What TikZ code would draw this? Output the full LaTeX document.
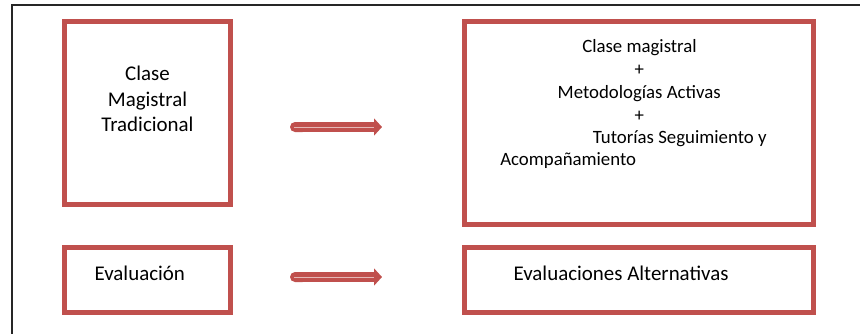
\documentclass[tikz,border=0pt]{standalone}
\usepackage{fontspec}
\setmainfont{Carlito}
\usepackage{tikz}
\usetikzlibrary{arrows.meta,calc}
\definecolor{boxred}{HTML}{C0504D}
\definecolor{framegray}{HTML}{262626}
\tikzset{mainbox/.style={draw=boxred, rectangle, line width=3.75pt, inner sep=0pt}}
\tikzset{boxtext/.style={text=black, inner sep=0pt, anchor=base, font=\fontsize{15.7}{18}\selectfont}}
\tikzset{smalltext/.style={boxtext, font=\fontsize{14.1}{17}\selectfont}}
\tikzset{frame/.style={draw=framegray, line width=1.5pt}}
\tikzset{line/.style={draw=boxred, line width=7.5pt, {Round Cap[]}-{Triangle[width=12.75pt, length=6pt]}}}
\tikzset{shine/.style={draw=white, opacity=0.6, line width=0.75pt}}

\begin{document}
\begin{tikzpicture}[x=0.75pt, y=-0.75pt]
		\useasboundingbox (0,0) rectangle (860,333);
		
		% outer frame
		\coordinate (fbl) at (12,334);
		\coordinate (ftr) at (860,5);
		\draw [frame] (fbl) |- (ftr);
		
		% boxes
		\node [mainbox, minimum width=124.5pt, minimum height=137.25pt] (clase) at (147.5,113) {};
		\node [mainbox, minimum width=124.5pt, minimum height=48.75pt] (evalua) at (147.5,280) {};
		\node [mainbox, minimum width=261.4pt, minimum height=152pt] (nueva) at (639,122.85) {};
		\node [mainbox, minimum width=261.4pt, minimum height=48.75pt] (altern) at (639,280) {};
		
		% texts
		\node [boxtext] (clase1) at (147.5,80) {Clase};
		\node [boxtext] (clase2) at (147.5,106) {Magistral};
		\node [boxtext] (clase3) at (147.5,131.7) {Tradicional};
		\node [boxtext, anchor=base west] (evaltxt) at (94.3,280) {Evaluación};
		
		\node [smalltext] (nueva1) at (639.5,52.7) {Clase magistral};
		\node [smalltext] (nueva2) at (639.3,75.3) {+};
		\node [smalltext] (nueva3) at (639.2,98.7) {Metodologías Activas};
		\node [smalltext] (nueva4) at (639.3,121) {+};
		\node [smalltext, anchor=base west] (nueva5) at (592.7,143.3) {Tutorías Seguimiento y};
		\node [smalltext, anchor=base west] (nueva6) at (500,165.5) {Acompañamiento};
		\node [boxtext, anchor=base west] (alttxt) at (513.3,280) {Evaluaciones Alternativas};
		
		% arrows
		\coordinate (top_s) at (290,127);
		\coordinate (top_e) at (382,127);
		\coordinate (bot_s) at (290,277);
		\coordinate (bot_e) at (382,277);
		
		\path [line] (top_s) -- (top_e);
		\path [line] (bot_s) -- (bot_e);
		\draw [shine] ($(top_s)+(4,0)$) -- ($(top_e)+(-8,0)$);
		\draw [shine] ($(bot_s)+(4,0)$) -- ($(bot_e)+(-8,0)$);
		
		\end{tikzpicture}
\end{document}
